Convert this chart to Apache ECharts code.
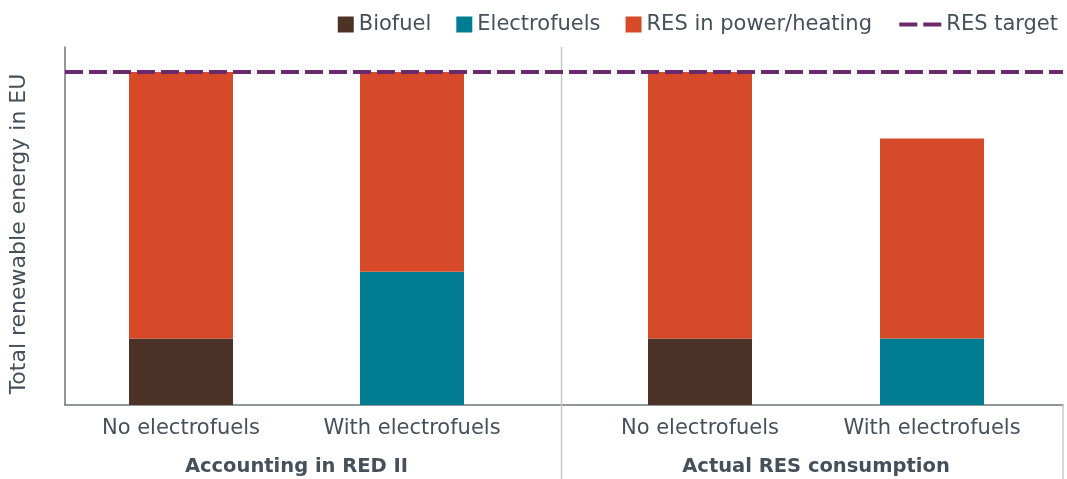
<!DOCTYPE html>
<html>
<head>
<meta charset="utf-8">
<script src="https://cdn.jsdelivr.net/npm/echarts@6/dist/echarts.min.js"></script>
<style>html,body{margin:0;padding:0;background:#fff}#c{width:1067px;height:479px}</style>
</head>
<body>
<div id="c"></div>
<script>
const categories = ['No electrofuels', 'With electrofuels'];
const groups = ['Accounting in RED II', 'Actual RES consumption'];
// values per bar: [group1-no, group1-with, group2-no, group2-with]
const biofuel = [20, 0, 20, 0];
const electrofuels = [0, 40, 0, 20];
const resPower = [80, 60, 80, 60];
const resTarget = 100;

const FONT = '"DejaVu Sans", sans-serif';
const TXT = '#46505a';
const C_BIO = '#4d3228', C_EF = '#007c92', C_RES = '#d64a29', C_TGT = '#6b2a6b';
const YMAX = 107.5;

const chart = echarts.init(document.getElementById('c'), null, {renderer: 'canvas'});

function yAx(idx, show) {
  return {
    type: 'value', gridIndex: idx, min: 0, max: YMAX,
    splitLine: {show: false}, axisTick: {show: false}, axisLabel: {show: false},
    axisLine: {show: show, lineStyle: {color: '#6e7479', width: 1.5}},
    name: show ? 'Total renewable energy in EU' : '',
    nameLocation: 'middle', nameGap: 35,
    nameTextStyle: {fontFamily: FONT, fontSize: 22, color: TXT, padding: [0, 16, 0, 0]}
  };
}
function xAx(idx, gi) {
  return {
    type: 'category', gridIndex: idx, data: categories,
    axisLine: {show: false}, axisTick: {show: false},
    axisLabel: {fontFamily: FONT, fontSize: 21, color: TXT, margin: 13},
    name: groups[gi], nameLocation: 'middle', nameGap: 52,
    nameTextStyle: {fontFamily: FONT, fontSize: 19.5, fontWeight: 'bold', color: TXT}
  };
}
const sl = (a, g) => a.slice(g * 2, g * 2 + 2);

const series = [];
[0, 1].forEach(g => {
  series.push(
    {name: 'Biofuel', type: 'bar', stack: 's' + g, xAxisIndex: g, yAxisIndex: g, barWidth: 104,
     itemStyle: {color: C_BIO}, data: sl(biofuel, g)},
    {name: 'Electrofuels', type: 'bar', stack: 's' + g, xAxisIndex: g, yAxisIndex: g, barWidth: 104,
     itemStyle: {color: C_EF}, data: sl(electrofuels, g)},
    {name: 'RES in power/heating', type: 'bar', stack: 's' + g, xAxisIndex: g, yAxisIndex: g, barWidth: 104,
     itemStyle: {color: C_RES}, data: sl(resPower, g)}
  );
});
series.push({
  name: 'RES target', type: 'line', xAxisIndex: 2, yAxisIndex: 2, symbol: 'none', z: 10,
  lineStyle: {color: C_TGT, width: 4, type: [18, 6]},
  itemStyle: {color: C_TGT},
  data: [resTarget, resTarget]
});

chart.setOption({
  animation: false,
  textStyle: {fontFamily: FONT},
  grid: [
    {left: 65.5, width: 462, top: 47, bottom: 74, containLabel: false, outerBoundsMode: 'none'},
    {left: 584, width: 464, top: 47, bottom: 74, containLabel: false, outerBoundsMode: 'none'},
    {left: 65, right: 4, top: 47, bottom: 74, containLabel: false, outerBoundsMode: 'none'}
  ],
  xAxis: [
    xAx(0, 0), xAx(1, 1),
    {type: 'category', gridIndex: 2, data: ['', ''], boundaryGap: false,
     axisTick: {show: false}, axisLabel: {show: false},
     axisLine: {show: true, lineStyle: {color: '#6e7479', width: 1.5}}}
  ],
  yAxis: [yAx(0, false), yAx(1, false), yAx(2, true)],
  legend: [
    {data: ['Biofuel', 'Electrofuels', 'RES in power/heating'], right: 190, top: 9,
     icon: 'rect', itemWidth: 16, itemHeight: 16, itemGap: 25,
     textStyle: {fontFamily: FONT, fontSize: 21, color: TXT}},
    {data: [{name: 'RES target', icon: 'path://M0,0H18V4H0Z M24,0H42V4H24Z'}], right: 4, top: 9,
     itemWidth: 42, itemHeight: 4,
     textStyle: {fontFamily: FONT, fontSize: 21, color: TXT}}
  ],
  graphic: [
    {type: 'line', shape: {x1: 561.5, y1: 47, x2: 561.5, y2: 479}, style: {stroke: '#c8c8c8', lineWidth: 1.5}, z: 1},
    {type: 'line', shape: {x1: 1063, y1: 405, x2: 1063, y2: 479}, style: {stroke: '#c8c8c8', lineWidth: 1.5}, z: 1}
  ],
  series: series
});
</script>
</body>
</html>
